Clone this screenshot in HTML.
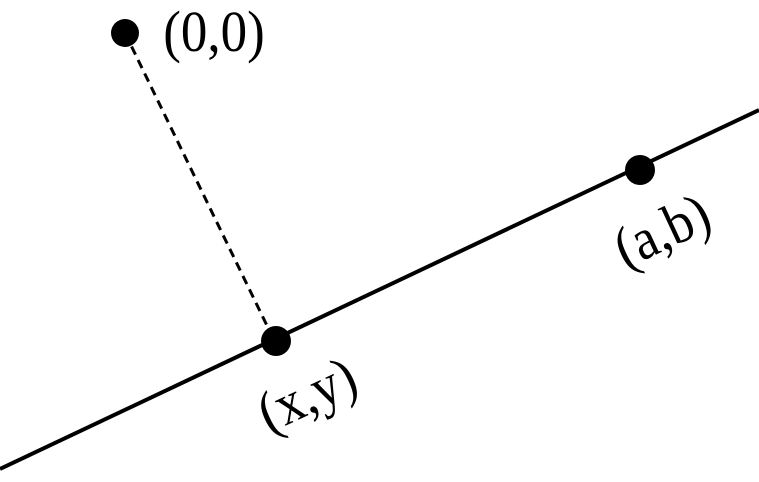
<!DOCTYPE html>
<html><head><style>body{margin:0;background:#fff}</style></head><body>
<svg width="759" height="477" viewBox="0 0 759 477" xmlns="http://www.w3.org/2000/svg">
<line x1="0" y1="469" x2="759" y2="110" stroke="#000" stroke-width="4"/>
<line x1="125" y1="33" x2="273" y2="338" stroke="#000" stroke-width="3" stroke-dasharray="9,6"/>
<circle cx="125" cy="33" r="14" fill="#000"/>
<circle cx="276" cy="341" r="15" fill="#000"/>
<circle cx="640" cy="170" r="15" fill="#000"/>
<g font-family="Liberation Serif, serif" font-size="53" fill="#000" text-anchor="middle">
<text x="214" y="51" transform="translate(214,51) scale(1,1.1) translate(-214,-51)">(0,0)</text>
<text transform="translate(315,412) rotate(-25) scale(1,1.1)">(x,y)</text>
<text transform="translate(670,248) rotate(-25) scale(1,1.1)">(a,b)</text>
</g>
</svg>
</body></html>
